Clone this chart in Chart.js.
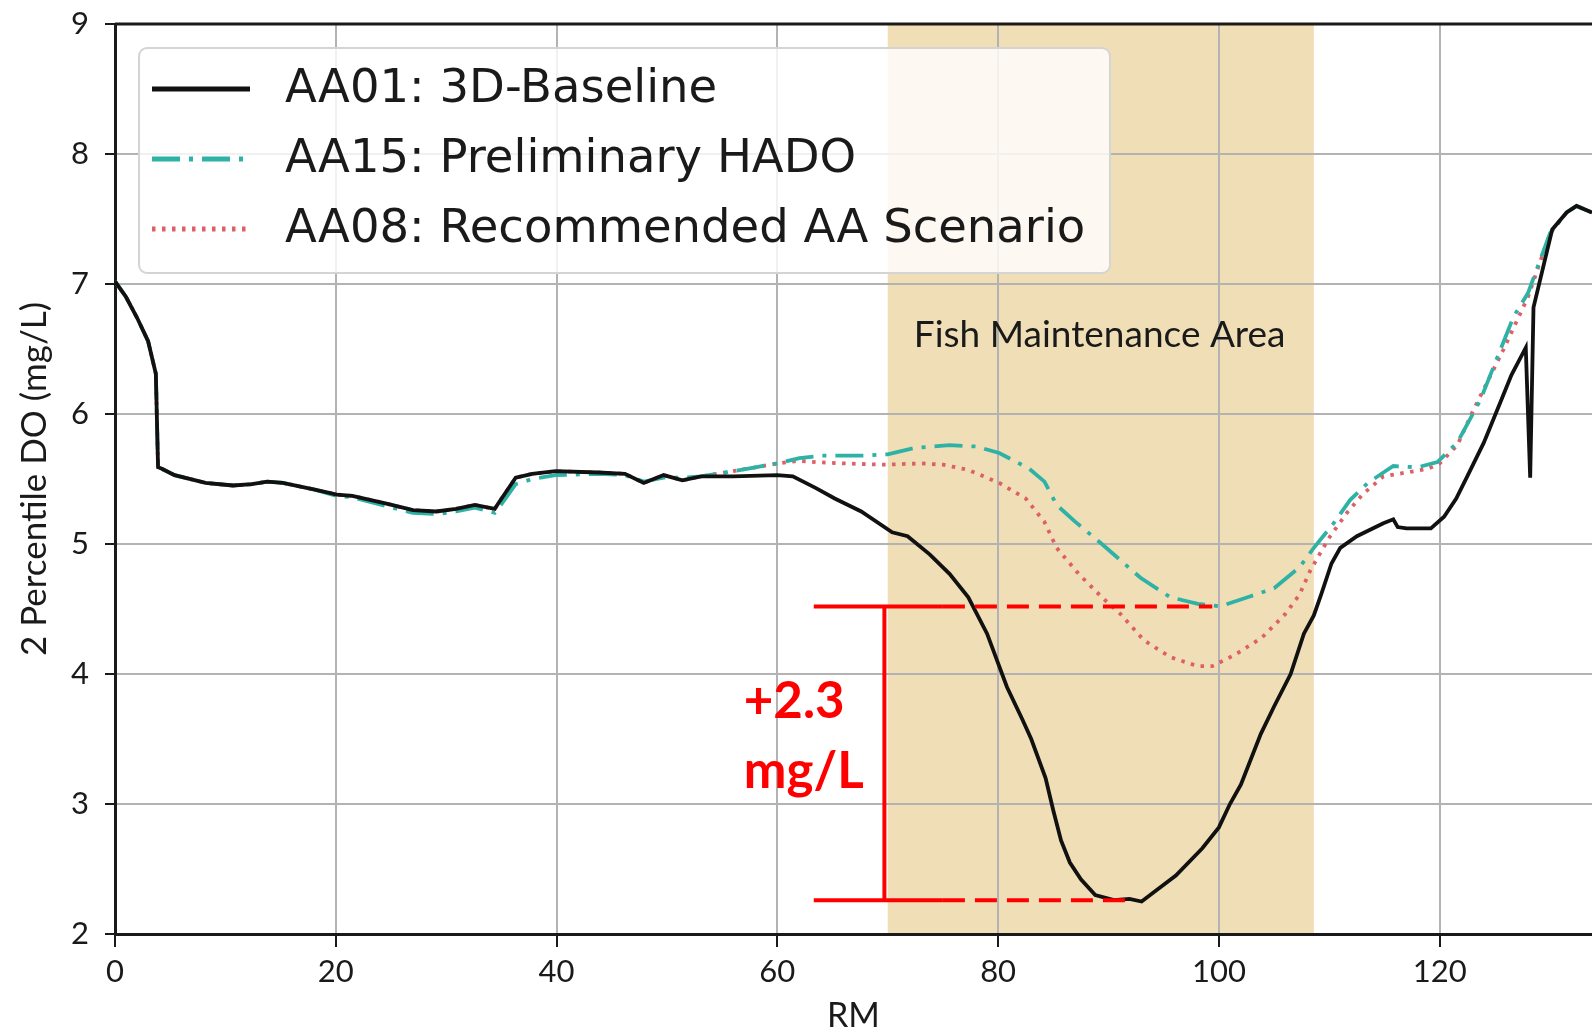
<!DOCTYPE html>
<html>
<head>
<meta charset="utf-8">
<script src="https://cdn.jsdelivr.net/npm/chart.js@4/dist/chart.umd.min.js"></script>
<style>
  html, body { margin: 0; padding: 0; background: #fff; }
  canvas { display: block; }
</style>
</head>
<body>
<canvas id="chart" width="1592" height="1034"></canvas>
<script>
// river mile / 2nd percentile DO, one pair of arrays per run
const baseRM = [0, 1, 2, 3, 3.7, 3.9, 4.2, 5.4, 8.2, 10.7, 12.4, 13.8, 15.2, 18, 20.1, 21.5, 24.6, 27, 29.1, 30.9,
  32.6, 34.4, 34.7, 36.3, 37.8, 39.9, 43.8, 46.2, 47.9, 49.7, 51.4, 53.1, 56, 60, 61.4, 63.5, 65.2, 67.6, 70.4, 71.8,
  73.8, 75.6, 77.3, 79, 80.8, 82.2, 83, 84.3, 85, 85.7, 86.5, 87.5, 88.8, 90.5, 91.9, 93, 94.4, 96.1, 98.5, 100, 101, 102,
  103.8, 105, 106.5, 107.7, 108.6, 109.3, 110.2, 111, 112.5, 114.9, 115.8, 116.2, 117, 119.2, 120.4, 121.5, 122.5,
  124, 125.5, 126.5, 127.8, 128.2, 128.5, 130.2, 131.5, 132.4, 133.8];
const baseDO = [7.02, 6.9, 6.74, 6.56, 6.31, 5.59, 5.58, 5.53, 5.47, 5.45, 5.46, 5.48, 5.47, 5.42, 5.38, 5.37, 5.31, 5.26, 5.25, 5.27,
  5.30, 5.27, 5.31, 5.51, 5.54, 5.56, 5.55, 5.54, 5.47, 5.53, 5.49, 5.52, 5.52, 5.53, 5.52, 5.43, 5.35, 5.25, 5.09, 5.06,
  4.92, 4.77, 4.59, 4.31, 3.90, 3.65, 3.5, 3.2, 2.95, 2.72, 2.55, 2.42, 2.3, 2.26, 2.27, 2.25, 2.34, 2.45, 2.66, 2.82, 3.0, 3.15,
  3.54, 3.75, 4.0, 4.31, 4.45, 4.62, 4.85, 4.97, 5.06, 5.16, 5.19, 5.13, 5.12, 5.12, 5.21, 5.35, 5.52,
  5.78, 6.09, 6.3, 6.51, 5.51, 6.82, 7.42, 7.55, 7.6, 7.55];

const hadoRM = [0, 1, 2, 3, 3.7, 3.9, 4.2, 5.4, 8.2, 10.7, 12.4, 13.8, 15.2, 18, 20.1, 21.5, 24.6, 27, 29.1, 30.9,
  32.6, 34.4, 34.7, 36.3, 37.8, 39.9, 43.8, 46.2, 47.9, 49.7, 51.4, 53.1, 56, 58, 60, 62, 64, 68, 70, 72.5,
  75.6, 78, 80.1, 82.8, 84.2, 85.3, 87, 89.4, 92.9, 95.6, 98.1, 100.1, 102.6, 105, 107.3, 108.6, 110.4, 111.9, 113.5,
  114.9, 115.8, 118, 119.8, 121.6, 123.7, 126.7, 128, 130, 131.5, 132.4, 133.8];
const hadoDO = [7.02, 6.9, 6.74, 6.56, 6.31, 5.59, 5.58, 5.53, 5.47, 5.45, 5.46, 5.48, 5.47, 5.42, 5.37, 5.36, 5.29, 5.24, 5.23, 5.25,
  5.28, 5.24, 5.27, 5.46, 5.5, 5.53, 5.54, 5.53, 5.48, 5.51, 5.51, 5.52, 5.56, 5.59, 5.62, 5.66, 5.68, 5.68, 5.69, 5.74,
  5.76, 5.75, 5.70, 5.58, 5.48, 5.30, 5.17, 5.0, 4.74, 4.59, 4.54, 4.52, 4.59, 4.66, 4.82, 4.97, 5.16, 5.34, 5.47,
  5.55, 5.6, 5.59, 5.63, 5.78, 6.11, 6.75, 6.93, 7.39, 7.55, 7.6, 7.55];

const aa08RM = [0, 1, 2, 3, 3.7, 3.9, 4.2, 5.4, 8.2, 10.7, 12.4, 13.8, 15.2, 18, 20.1, 21.5, 24.6, 27, 29.1, 30.9,
  32.6, 34.4, 34.7, 36.3, 37.8, 39.9, 43.8, 46.2, 47.9, 49.7, 51.4, 53.1, 56, 58, 60, 62, 63.5, 66, 69.7, 73.1,
  75, 77.3, 80.1, 82.5, 84.2, 85.3, 87.3, 89.4, 91.1, 93.2, 95.6, 98.1, 99.4, 101.5, 103.9, 106, 107.3, 108.3, 110,
  111.6, 113, 114.9, 117, 119, 120, 121.6, 123, 125.8, 128, 130, 131.5, 132.4, 133.8];
const aa08DO = [7.02, 6.9, 6.74, 6.56, 6.31, 5.59, 5.58, 5.53, 5.47, 5.45, 5.46, 5.48, 5.47, 5.42, 5.38, 5.37, 5.31, 5.26, 5.25, 5.27,
  5.30, 5.27, 5.31, 5.51, 5.54, 5.56, 5.55, 5.54, 5.47, 5.53, 5.49, 5.52, 5.56, 5.59, 5.62, 5.64, 5.63, 5.62, 5.61, 5.62,
  5.61, 5.57, 5.47, 5.35, 5.17, 4.97, 4.77, 4.59, 4.46, 4.26, 4.13, 4.06, 4.06, 4.15, 4.28, 4.46, 4.61, 4.8, 5.05,
  5.24, 5.38, 5.52, 5.55, 5.58, 5.62, 5.76, 6.02, 6.5, 6.9, 7.39, 7.55, 7.6, 7.55];

const seriesNames = ['AA01: 3D-Baseline', 'AA15: Preliminary HADO', 'AA08: Recommended AA Scenario'];

const xTicks = [0, 20, 40, 60, 80, 100, 120];
const yTicks = [2, 3, 4, 5, 6, 7, 8, 9];

// fish maintenance reach (RM) and its caption
const fmaRange = [70, 108.6];
const fmaLabel = 'Fish Maintenance Area';
const fmaLabelAt = [89.2, 6.61];

// DO improvement bracket: levels and RM extents
const gainTop = 4.52;
const gainBottom = 2.26;
const gainFrom = 63.3;
const gainStem = 69.7;
const gainSolidTo = 75;
const gainTopTo = 99.4;
const gainBottomTo = 91.9;

const pts = (xs, ys) => xs.map((v, i) => ({ x: v, y: ys[i] }));

const fmaPlugin = {
  id: 'fma',
  beforeDraw(chart) {
    const { ctx, chartArea, scales: { x } } = chart;
    const x0 = x.getPixelForValue(fmaRange[0]);
    const x1 = x.getPixelForValue(fmaRange[1]);
    ctx.save();
    ctx.fillStyle = '#f0dfb6';
    ctx.fillRect(x0, chartArea.top, x1 - x0, chartArea.bottom - chartArea.top);
    ctx.restore();
  },
  afterDatasetsDraw(chart) {
    const { ctx, scales: { x, y } } = chart;
    ctx.save();
    ctx.font = '37px Lato';
    ctx.fillStyle = '#1a1a1a';
    ctx.textAlign = 'center';
    ctx.textBaseline = 'middle';
    ctx.fillText(fmaLabel, x.getPixelForValue(fmaLabelAt[0]), y.getPixelForValue(fmaLabelAt[1]));
    ctx.restore();
  }
};

const gainPlugin = {
  id: 'gain',
  afterDatasetsDraw(chart) {
    const { ctx, scales: { x, y } } = chart;
    const yt = y.getPixelForValue(gainTop);
    const yb = y.getPixelForValue(gainBottom);
    const px = v => x.getPixelForValue(v);
    ctx.save();
    ctx.strokeStyle = '#ff0000';
    ctx.lineWidth = 4;
    const seg = (a, b, yy, dash) => {
      ctx.setLineDash(dash);
      ctx.beginPath();
      ctx.moveTo(px(a), yy);
      ctx.lineTo(px(b), yy);
      ctx.stroke();
    };
    seg(gainFrom, gainSolidTo, yt, []);
    seg(gainSolidTo, gainTopTo, yt, [22, 10]);
    seg(gainFrom, gainSolidTo, yb, []);
    seg(gainSolidTo, gainBottomTo, yb, [22, 10]);
    ctx.setLineDash([]);
    ctx.beginPath();
    ctx.moveTo(px(gainStem), yt);
    ctx.lineTo(px(gainStem), yb);
    ctx.stroke();

    ctx.fillStyle = '#ff0000';
    ctx.font = 'bold 51px Lato';
    ctx.textAlign = 'left';
    ctx.textBaseline = 'middle';
    const tx = px(gainFrom) - 70;
    const mid = (yt + yb) / 2;
    ctx.fillText('+' + (gainTop - gainBottom).toFixed(1), tx, mid - 52);
    ctx.fillText('mg/L', tx, mid + 18);
    ctx.restore();
  }
};

// axes frame (top spine) and the boxed legend
const framePlugin = {
  id: 'frame',
  afterDraw(chart) {
    const { ctx, chartArea } = chart;
    ctx.save();
    ctx.strokeStyle = '#1a1a1a';
    ctx.lineWidth = 3;
    ctx.beginPath();
    ctx.moveTo(chartArea.left, chartArea.top);
    ctx.lineTo(chartArea.right, chartArea.top);
    ctx.stroke();

    const bx = 139, by = 48, bw = 971, bh = 225;
    ctx.fillStyle = 'rgba(255,255,255,0.82)';
    ctx.strokeStyle = '#d4d4d4';
    ctx.lineWidth = 2;
    ctx.beginPath();
    ctx.roundRect(bx, by, bw, bh, 8);
    ctx.fill();
    ctx.stroke();

    ctx.font = '46.5px "DejaVu Sans"';
    ctx.textAlign = 'left';
    ctx.textBaseline = 'middle';
    chart.data.datasets.forEach((ds, i) => {
      const ry = 89 + i * 70;
      ctx.strokeStyle = ds.borderColor;
      ctx.lineWidth = ds.borderWidth + 1;
      ctx.setLineDash(ds.borderDash || []);
      ctx.beginPath();
      ctx.moveTo(152, ry);
      ctx.lineTo(250, ry);
      ctx.stroke();
      ctx.setLineDash([]);
      ctx.fillStyle = '#1a1a1a';
      ctx.fillText(ds.label, 285, ry + 1);
    });
    ctx.restore();
  }
};

new Chart(document.getElementById('chart'), {
  type: 'line',
  data: {
    datasets: [
      {
        label: seriesNames[0],
        data: pts(baseRM, baseDO),
        borderColor: '#111111',
        borderWidth: 3.8,
        pointRadius: 0,
        order: 1
      },
      {
        label: seriesNames[1],
        data: pts(hadoRM, hadoDO),
        borderColor: '#2fb2a6',
        borderWidth: 3.8,
        borderDash: [28, 9, 4, 9],
        pointRadius: 0,
        order: 2
      },
      {
        label: seriesNames[2],
        data: pts(aa08RM, aa08DO),
        borderColor: '#df5f66',
        borderWidth: 3.8,
        borderDash: [3.5, 6.5],
        pointRadius: 0,
        order: 3
      }
    ]
  },
  options: {
    responsive: false,
    animation: false,
    devicePixelRatio: 1,
    layout: { padding: { top: 24, right: 0, left: 0, bottom: 0 } },
    plugins: {
      legend: { display: false },
      tooltip: { enabled: false }
    },
    scales: {
      x: {
        type: 'linear',
        min: 0,
        max: 133.8,
        afterBuildTicks: s => { s.ticks = xTicks.map(v => ({ value: v })); },
        afterFit: s => { s.height = 100; s.paddingLeft = 0; s.paddingRight = 0; },
        ticks: { autoSkip: false, maxRotation: 0, color: '#1a1a1a', font: { family: 'Lato', size: 31 }, padding: 6 },
        grid: { color: '#b3b3b3', lineWidth: 2, tickColor: '#1a1a1a', tickLength: 13, tickWidth: 2 },
        border: { color: '#1a1a1a', width: 3 },
        title: { display: true, text: 'RM', color: '#1a1a1a', font: { family: 'Lato', size: 34 }, padding: { top: 0, bottom: -2 } }
      },
      y: {
        min: 2,
        max: 9,
        afterBuildTicks: s => { s.ticks = yTicks.map(v => ({ value: v })); },
        afterFit: s => { s.width = 115; s.paddingTop = 0; s.paddingBottom = 0; },
        ticks: { color: '#1a1a1a', font: { family: 'Lato', size: 31 }, padding: 16 },
        grid: { color: '#b3b3b3', lineWidth: 2, tickColor: '#1a1a1a', tickLength: 10, tickWidth: 2 },
        border: { color: '#1a1a1a', width: 3 },
        title: { display: true, text: '2 Percentile DO (mg/L)', color: '#1a1a1a', font: { family: 'Lato', size: 35 }, padding: { top: 14, bottom: 0 } }
      }
    }
  },
  plugins: [fmaPlugin, gainPlugin, framePlugin]
});
</script>
</body>
</html>
